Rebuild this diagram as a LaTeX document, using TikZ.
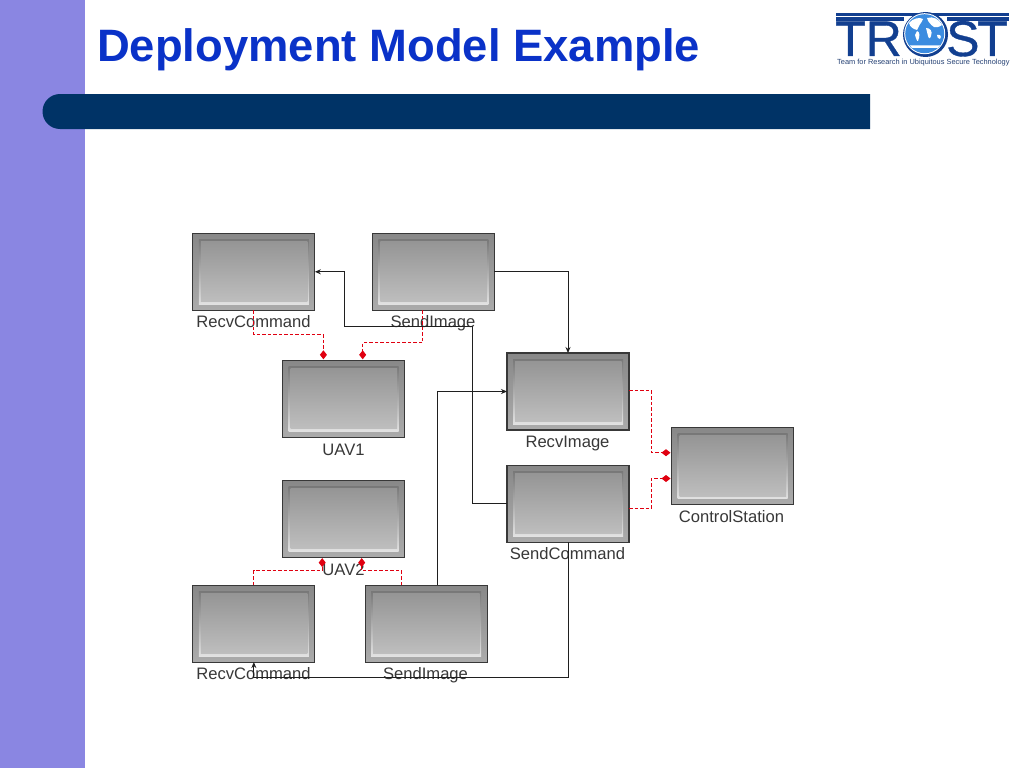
\documentclass[tikz,border=0pt]{standalone}
\usepackage{fontspec}
\setmainfont{Liberation Sans}
\newfontfamily\logofont[FakeBold=0.7]{Liberation Sans}
\usetikzlibrary{arrows.meta,shadings}
\definecolor{sideband}{HTML}{8A86E2}
\definecolor{headbar}{HTML}{003366}
\definecolor{titleblue}{HTML}{0A32C8}
\definecolor{logoblue}{HTML}{123F90}
\definecolor{globeblue}{HTML}{3C8CE0}
\definecolor{depred}{HTML}{E00010}
\definecolor{outertop}{HTML}{888888}
\definecolor{outerbot}{HTML}{ABABAB}
\definecolor{ringtop}{HTML}{787878}
\definecolor{ringbot}{HTML}{E2E2E2}
\definecolor{innertop}{HTML}{959595}
\definecolor{innerbot}{HTML}{BEBEBE}
\tikzset{
 x=1pt,y=-1pt,
 devbox/.style={rectangle,minimum width=122pt,minimum height=77pt,inner sep=0pt,outer sep=0pt,
  draw=black!78,line width=1.1pt,
  path picture={
   \shade[top color=outertop,bottom color=outerbot]
     (path picture bounding box.south west) rectangle (path picture bounding box.north east);
   \shade[top color=ringtop,bottom color=ringbot]
     ([shift={(6pt,6pt)}]path picture bounding box.south west) rectangle ([shift={(-6pt,-6pt)}]path picture bounding box.north east);
   \shade[top color=innertop,bottom color=innerbot]
     ([shift={(8pt,8.5pt)}]path picture bounding box.south west) rectangle ([shift={(-7.5pt,-8pt)}]path picture bounding box.north east);
  }},
 devlabel/.style={font=\fontsize{16.6}{16.6}\selectfont,text=black!78,inner sep=0pt,anchor=base},
 flow/.style={draw=black!88,line width=0.9pt,-{Stealth[length=6pt,width=5pt]}},
 dep/.style={draw=depred,line width=1pt,dash pattern=on 3.5pt off 2pt,-{Diamond[length=9pt,width=7pt,sep=1pt]}},
 logotext/.style={text=logoblue,inner sep=0pt,anchor=base west,font=\logofont\fontsize{50}{50}\selectfont},
}
\begin{document}
\begin{tikzpicture}
\useasboundingbox (0,0) rectangle (1024,768);
\fill[white] (0,0) rectangle (1024,768);
\fill[sideband] (0,0) rectangle (85,768);
\fill[headbar] (870,94) -- (60,94) arc[start angle=90,end angle=270,radius=17.5pt] -- (870,129) -- cycle;
\node[inner sep=0pt,anchor=base west,text=titleblue,font=\bfseries\fontsize{45.4}{45.4}\selectfont] (title) at (97,62) {Deployment Model Example};
% logo
\node[logotext] (logoTR) at (835,56) {TR};
\node[logotext] (logoS) at (946,56) {S};
\node[logotext] (logoT) at (977,56) {T};
\fill[white] (836,16) rectangle (1009,17.3);
\fill[logoblue] (836,12.7) rectangle (1009,16);
\fill[logoblue] (836,17.3) rectangle (904,21.3);
\fill[logoblue] (947,17.3) rectangle (1009,21.3);
\fill[logoblue] (925.5,34.5) circle[radius=22.5pt];
\fill[white] (924.7,33.7) circle[radius=20.5pt];
\fill[globeblue] (924.7,33.7) circle[radius=19.5pt];
\begin{scope}
\clip (924.7,33.7) circle[radius=19.5pt];
\fill[white] (909,23) .. controls (913,18) and (920,17) .. (923,19) .. controls (921,24) and (918,26) .. (917,30) .. controls (913,29) and (910,27) .. (909,23) -- cycle;
\fill[white] (917,31) .. controls (920,32) and (920,36) .. (918,41) .. controls (917,42) and (916,38) .. (915,35) -- cycle;
\fill[white] (927,18) .. controls (933,16) and (939,19) .. (942,25) .. controls (939,27) and (936,28) .. (934,27) .. controls (931,25) and (928,22) .. (927,18) -- cycle;
\fill[white] (926,28) .. controls (930,28) and (933,31) .. (931,36) .. controls (930,39) and (929,39) .. (928,36) -- cycle;
\fill[white] (937,35) .. controls (940,34) and (942,36) .. (940,39) .. controls (938,39) and (937,37) .. (937,35) -- cycle;
\fill[white] (910,45.5) -- (940,45.5) -- (938,48) -- (912,48) -- cycle;
\end{scope}
\node[inner sep=0pt,anchor=base west,text=logoblue!70!black!90,font=\fontsize{7.4}{8}\selectfont] (tagline) at (837,64.5) {Team for Research in Ubiquitous Secure Technology};
% boxes
\node[devbox] (rcA) at (253.85,271.8) {};
\node[devbox] (siA) at (433.3,271.8) {};
\node[devbox] (uavA) at (343.7,398.8) {};
\node[devbox] (uavB) at (343.7,518.6) {};
\node[devbox] (rcB) at (253.85,623.6) {};
\node[devbox] (siB) at (426.2,623.6) {};
\node[devbox] (ri) at (568,391.5) {};
\node[devbox] (sc) at (568,503.7) {};
\node[devbox] (cs) at (732.5,466.2) {};
% labels
\node[devlabel] (lrcA) at (253.5,327) {RecvCommand};
\node[devlabel] (lsiA) at (433,327) {SendImage};
\node[devlabel] (luavA) at (343.5,455) {UAV1};
\node[devlabel] (luavB) at (343.5,575) {UAV2};
\node[devlabel] (lrcB) at (253.5,679.5) {RecvCommand};
\node[devlabel] (lsiB) at (425.5,679.5) {SendImage};
\node[devlabel] (lri) at (567.5,447) {RecvImage};
\node[devlabel] (lsc) at (567.5,559.5) {SendCommand};
\node[devlabel] (lcs) at (731.5,522) {ControlStation};
% flows
\draw[flow] (sc.west) -- ++(-34.5,0) |- (344,326) |- (rcA.east);
\draw[flow] (siA.east) -| (ri.north);
\draw[flow] ([xshift=11.5pt]siB.north) |- (ri.west);
\draw[flow] (sc.south) -- ++(0,135) -| (rcB.south);
% deployment
\draw[dep] (rcA.south) -- ++(0,24.5) -| ([xshift=-20.3pt]uavA.north);
\draw[dep] ([xshift=-10.5pt]siA.south) -- ++(0,32.5) -| ([xshift=19pt]uavA.north);
\draw[dep] (rcB.north) -- ++(0,-14.3) -| ([xshift=-21.5pt]uavB.south);
\draw[dep] ([xshift=-24.8pt]siB.north) -- ++(0,-14.3) -| ([xshift=18pt]uavB.south);
\draw[dep] ([yshift=0.7pt]ri.east) -- ++(22,0) |- ([yshift=13.5pt]cs.west);
\draw[dep] ([yshift=-4.8pt]sc.east) -- ++(22,0) |- ([yshift=-12.3pt]cs.west);
\end{tikzpicture}
\end{document}
